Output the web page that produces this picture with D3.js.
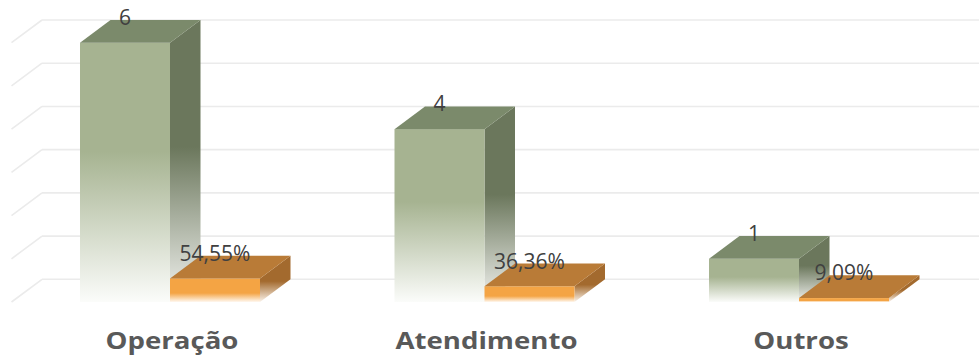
<!DOCTYPE html>
<html>
<head>
<meta charset="utf-8">
<script src="https://cdn.jsdelivr.net/npm/d3@7/dist/d3.min.js"></script>
<style>
  html, body { margin: 0; padding: 0; background: #ffffff; }
  svg { display: block; }
</style>
</head>
<body>
<svg id="chart" width="979" height="360"></svg>
<script>
// ---- data ----
const categories = ["Operação", "Atendimento", "Outros"];
const counts = [6, 4, 1];
const shares = [0.5455, 0.3636, 0.0909];
const shareLabels = ["54,55%", "36,36%", "9,09%"];
const gridTicks = [0, 1, 2, 3, 4, 5, 6];

// ---- layout ----
const W = 979, H = 360;
const depthX = 30.5, depthY = 22.7;   // 3D depth offset (front -> back)
const floorFront = 302;               // y of front floor edge
const svg = d3.select("#chart");

const yBack = d3.scaleLinear().domain([0, 6]).range([floorFront - depthY, 20]);
const yFront = v => yBack(v) + depthY;

const x = d3.scaleBand().domain(categories)
  .range([12.75, 956.25]).paddingInner(0.4277).paddingOuter(0.21385);
const xs = d3.scaleBand().domain(["count", "share"]).range([0, x.bandwidth()]).padding(0);

// ---- gradients ----
const defs = svg.append("defs");
function grad(id, color, solidTo, endColor) {
  const g = defs.append("linearGradient").attr("id", id)
    .attr("x1", 0).attr("y1", 0).attr("x2", 0).attr("y2", 1);
  g.append("stop").attr("offset", 0).attr("stop-color", color);
  g.append("stop").attr("offset", solidTo).attr("stop-color", color);
  g.append("stop").attr("offset", 1).attr("stop-color", endColor);
}
grad("gFront", "#a6b391", 0.42, "#fbfcfa");
grad("gSide", "#6b775c", 0.45, "#f2f3f0");
grad("oFront", "#f4a444", 0.62, "#fff8f0");
grad("oSide", "#a36a2e", 0.55, "#fbf3ea");

// ---- gridlines (back wall + left side wall) ----
const wallLeft = 42;
const grid = svg.append("g");
gridTicks.forEach(t => {
  const yy = yBack(t);
  grid.append("line").attr("x1", wallLeft).attr("x2", W).attr("y1", yy).attr("y2", yy)
    .attr("stroke", "#ebebeb").attr("stroke-width", 1.6);
  grid.append("line").attr("x1", wallLeft).attr("y1", yy)
    .attr("x2", wallLeft - depthX).attr("y2", yy + depthY)
    .attr("stroke", "#ebebeb").attr("stroke-width", 1.6);
});

// ---- 3D bars ----
function bar3d(g, x0, w, v, cFront, cTop, cSide) {
  const yT = yFront(v), yB = yFront(0);
  g.append("path").attr("d", d3.line()([
    [x0 + w, yT], [x0 + w + depthX, yT - depthY], [x0 + w + depthX, yB - depthY], [x0 + w, yB]
  ]) + "Z").attr("fill", cSide);
  g.append("rect").attr("x", x0).attr("y", yT).attr("width", w).attr("height", yB - yT)
    .attr("fill", cFront);
  g.append("path").attr("d", d3.line()([
    [x0, yT], [x0 + w, yT], [x0 + w + depthX, yT - depthY], [x0 + depthX, yT - depthY]
  ]) + "Z").attr("fill", cTop);
}

const bars = svg.append("g");
categories.forEach((c, i) => {
  const g = bars.append("g");
  bar3d(g, x(c) + xs("count"), xs.bandwidth(), counts[i], "url(#gFront)", "#7b8a6b", "url(#gSide)");
  bar3d(g, x(c) + xs("share"), xs.bandwidth(), shares[i], "url(#oFront)", "#b97b37", "url(#oSide)");
});

// ---- data labels ----
const labels = svg.append("g").attr("font-family", "'Open Sans', sans-serif")
  .attr("font-size", 21).attr("fill", "#404040").attr("text-anchor", "middle");
categories.forEach((c, i) => {
  labels.append("text")
    .attr("x", x(c) + xs("count") + xs.bandwidth() / 2)
    .attr("y", yBack(counts[i]) + 5)
    .text(counts[i]);
  labels.append("text")
    .attr("x", x(c) + xs("share") + xs.bandwidth() / 2)
    .attr("y", yBack(shares[i]) + 5)
    .text(shareLabels[i]);
});

// ---- category labels ----
const cat = svg.append("g").attr("font-family", "'Open Sans', sans-serif")
  .attr("font-weight", "bold").attr("font-size", 24).attr("fill", "#595959")
  .attr("text-anchor", "middle");
categories.forEach(c => {
  const cx = x(c) + x.bandwidth() / 2 + 2;
  cat.append("text")
    .attr("transform", `translate(${cx},349) scale(1.15,1)`)
    .text(c);
});
</script>
</body>
</html>
